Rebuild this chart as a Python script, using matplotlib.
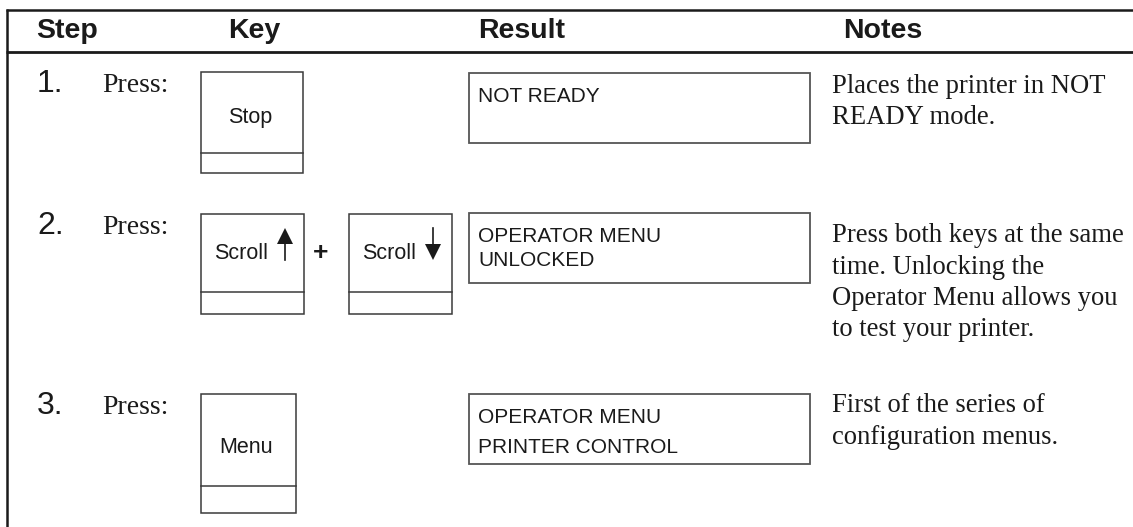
import matplotlib.pyplot as plt
from matplotlib.patches import Rectangle, Polygon

# table content
headers = ["Step", "Key", "Result", "Notes"]
header_x = [67, 254, 522, 883]
step_nums = ["1.", "2.", "3."]
step_verb = "Press:"
key_labels = [["Stop"], ["Scroll", "Scroll"], ["Menu"]]
key_arrows = [[None], ["up", "down"], [None]]
result_lines = [["NOT READY"], ["OPERATOR MENU", "UNLOCKED"], ["OPERATOR MENU", "PRINTER CONTROL"]]
notes_lines = [
    ["Places the printer in NOT", "READY mode."],
    ["Press both keys at the same", "time. Unlocking the", "Operator Menu allows you", "to test your printer."],
    ["First of the series of", "configuration menus."],
]

# layout (pixels, y downward)
row_top = [72, 214, 394]
key_x = [[201], [201, 349], [201]]
key_w = [102, 103, 95]
key_h = [101, 100, 119]
key_div = [81, 78, 92]
key_text_dy = [51, 45, 59]
res_top = [73, 213, 394]
res_gap = [0, 24, 30]
notes_base = [93, 242, 412]

sans = "Liberation Sans"
serif = "Liberation Serif"
ink = "#1a1a1a"

fig = plt.figure(figsize=(11.33, 5.27), dpi=100)
ax = fig.add_axes([0, 0, 1, 1])
ax.set_xlim(0, 1133)
ax.set_ylim(527, 0)
ax.axis("off")

# frame lines
ax.plot([6, 1133], [10, 10], color=ink, lw=1.8, solid_capstyle="butt")
ax.plot([6, 1133], [52, 52], color=ink, lw=2.0, solid_capstyle="butt")
ax.plot([6.5, 6.5], [9, 527], color=ink, lw=1.8, solid_capstyle="butt")

for hx, h in zip(header_x, headers):
    ax.text(hx, 38.5, h, ha="center", va="baseline", fontsize=20.5, fontweight="bold",
            family=sans, color=ink)

box_col = "#3a3a3a"
for i in range(3):
    top = row_top[i]
    base = top + 20
    ax.text(37, base, step_nums[i], ha="left", va="baseline", fontsize=23, family=sans, color=ink)
    ax.text(102, base, step_verb, ha="left", va="baseline", fontsize=20, family=serif, color=ink)

    # keys
    for j, kx in enumerate(key_x[i]):
        w, h, d = key_w[i], key_h[i], key_div[i]
        ax.add_patch(Rectangle((kx, top), w, h, fill=False, ec=box_col, lw=1.1))
        ax.plot([kx, kx + w], [top + d, top + d], color=box_col, lw=1.1)
        lab = key_labels[i][j]
        arrow = key_arrows[i][j]
        ty = top + key_text_dy[i]
        if arrow is None:
            ax.text(kx + w / 2 - 2, ty, lab, ha="center", va="baseline", fontsize=15.5,
                    family=sans, color=ink)
        else:
            ax.text(kx + 13, ty, lab, ha="left", va="baseline", fontsize=15.5,
                    family=sans, color=ink)
            ax_x = kx + 84
            if arrow == "up":
                ax.plot([ax_x, ax_x], [ty - 15, ty + 1], color=ink, lw=1.2)
                ax.add_patch(Polygon([[ax_x - 8, ty - 15], [ax_x + 8, ty - 15], [ax_x, ty - 31]],
                                     closed=True, fc=ink, ec="none"))
            else:
                ax.plot([ax_x, ax_x], [ty - 31, ty - 15], color=ink, lw=1.2)
                ax.add_patch(Polygon([[ax_x - 8, ty - 15], [ax_x + 8, ty - 15], [ax_x, ty + 1]],
                                     closed=True, fc=ink, ec="none"))
    if len(key_x[i]) == 2:
        ax.text(321, top + key_text_dy[i] + 1, "+", ha="center", va="baseline", fontsize=19,
                fontweight="bold", family=sans, color=ink)

    # result display
    rt = res_top[i]
    ax.add_patch(Rectangle((469, rt), 341, 70, fill=False, ec="#555555", lw=1.3))
    for k, line in enumerate(result_lines[i]):
        ax.text(478, rt + 29 + k * res_gap[i], line, ha="left", va="baseline", fontsize=15,
                family=sans, color=ink)

    # notes
    for k, line in enumerate(notes_lines[i]):
        ax.text(832, notes_base[i] + k * 31.5, line, ha="left", va="baseline", fontsize=19.2,
                family=serif, color=ink)

fig.savefig("out.png", dpi=100)
